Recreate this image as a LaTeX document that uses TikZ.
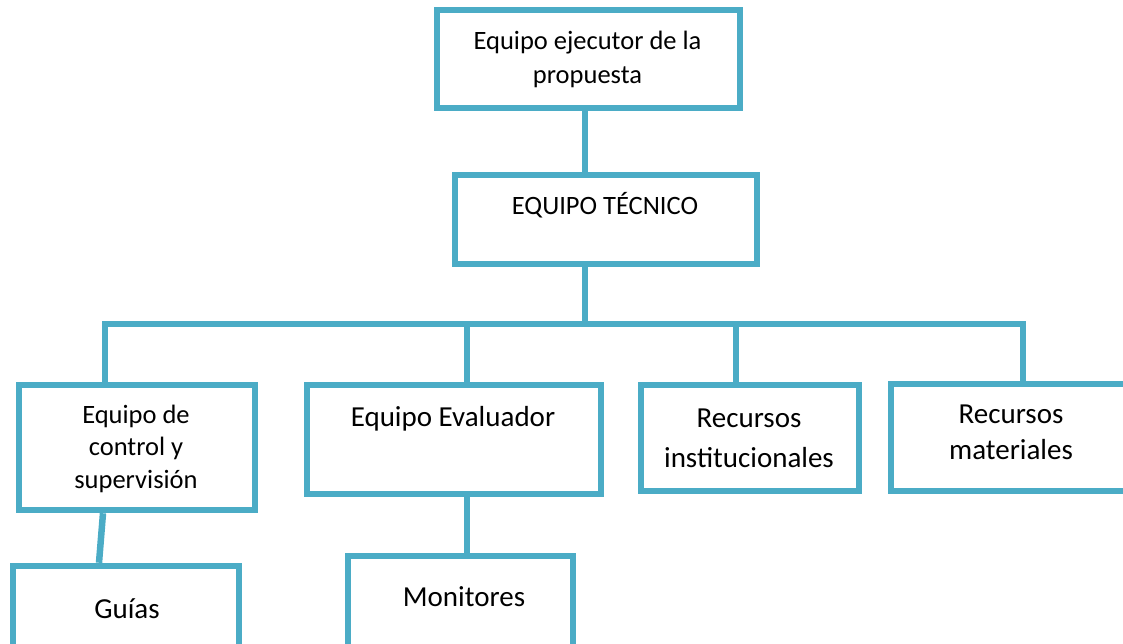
\documentclass[tikz,border=0pt]{standalone}
\usepackage{fontspec}
\setmainfont{Carlito}
\definecolor{boxblue}{RGB}{75,172,198}
\begin{document}
\begin{tikzpicture}[x=1pt,y=-1pt,
  box/.style={draw=boxblue, line width=6.5pt, fill=white, rectangle, inner sep=0pt},
  link/.style={draw=boxblue, line width=6.5pt, line join=miter},
  txt/.style={inner sep=0pt, align=center, anchor=base, text=black},
  fa/.style={font=\fontsize{26.5}{33}\selectfont},
  fb/.style={font=\fontsize{29}{36}\selectfont}]
\useasboundingbox (0,0) rectangle (1123,643);
% boxes
\node[box, minimum width=303pt, minimum height=98pt] (top) at (588.5,59) {};
\node[box, minimum width=302pt, minimum height=89pt] (et) at (606,219.5) {};
\node[box, minimum width=236pt, minimum height=125pt] (b1) at (137,447.5) {};
\node[box, minimum width=294pt, minimum height=109pt] (b2) at (454,439.5) {};
\node[box, minimum width=218pt, minimum height=106pt] (b3) at (750,438) {};
\node[box, minimum width=239pt, minimum height=107pt] (b4) at (1010.5,437.5) {};
\node[box, minimum width=226pt, minimum height=82pt] (gu) at (126,607) {};
\node[box, minimum width=225pt, minimum height=92pt] (mo) at (460.5,602) {};
% helper coordinates
\coordinate (xa) at (585,0);
\coordinate (xb) at (105,0);
\coordinate (xc) at (467,0);
\coordinate (xd) at (736,0);
\coordinate (xe) at (1023,0);
\coordinate (yb) at (0,324);
\coordinate (g1) at (103,0);
\coordinate (g2) at (99,0);
% connectors
\draw[link] (top.south -| xa) -- (et.north -| xa);
\draw[link] (et.south -| xa) -- (yb -| xa);
\draw[link] (b1.north -| xb) -- (yb -| xb) -- (yb -| xe) -- (b4.north -| xe);
\draw[link] (yb -| xc) -- (b2.north -| xc);
\draw[link] (yb -| xd) -- (b3.north -| xd);
\draw[link] (b1.south -| g1) -- (gu.north -| g2);
\draw[link] (b2.south -| xc) -- (mo.north -| xc);
% texts (base anchor = baseline of the last line)
\node[txt, fa, font=\fontsize{26.5}{34}\selectfont] (toptext) at (587.5,83) {Equipo ejecutor de la\\propuesta};
\node[txt, fa] (ettext) at (605,214) {EQUIPO TÉCNICO};
\node[txt, fa, font=\fontsize{26.5}{32.5}\selectfont] (b1text) at (136,488) {Equipo de\\control y\\supervisión};
\node[txt, fb] (b2text) at (453,426) {Equipo Evaluador};
\node[txt, fb, font=\fontsize{29}{40}\selectfont] (b3text) at (749,467) {Recursos\\institucionales};
\node[txt, fb] (b4text) at (1011,459) {Recursos\\materiales};
\node[txt, fb] (gutext) at (127,618) {Guías};
\node[txt, fb] (motext) at (464,606) {Monitores};
\end{tikzpicture}
\end{document}
